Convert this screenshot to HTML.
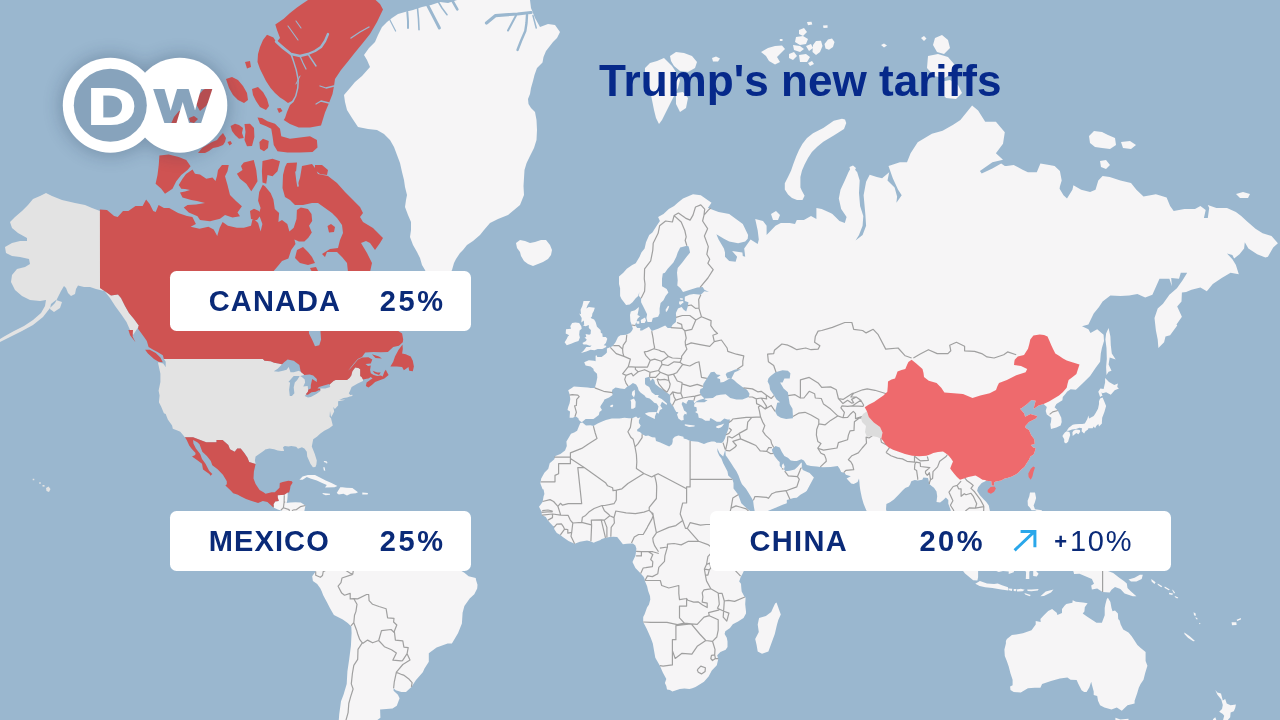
<!DOCTYPE html>
<html lang="en"><head><meta charset="utf-8"><title>Trump's new tariffs</title>
<style>
html,body{margin:0;padding:0;background:#9ab7cf;}
body{width:1280px;height:720px;overflow:hidden;position:relative;font-family:"Liberation Sans",sans-serif;}
#map{position:absolute;left:0;top:0;width:1280px;height:720px;display:block;filter:blur(0.4px)}
.title{position:absolute;left:599px;top:0;font-size:44.1px;font-weight:bold;color:#06298a;white-space:nowrap;line-height:44px;letter-spacing:0;padding-top:0}
.box{position:absolute;background:#fff;border-radius:6.5px;height:60.3px;color:#0a2a78;font-weight:bold;font-size:29px;line-height:60.6px;white-space:nowrap}
.box span{position:absolute;top:0}
.b1{left:170.3px;top:270.7px;width:300.8px}
.b2{left:170.3px;top:510.7px;width:300.8px}
.b3{left:710.4px;top:510.8px;width:460.9px}
.name{left:38.5px;letter-spacing:1.1px}
.pct{left:209.5px;letter-spacing:2.6px}
.plus{font-weight:normal;letter-spacing:1.6px}
#logo{position:absolute;left:10px;top:5px;width:290px;height:200px}
</style></head>
<body>
<svg id="map" viewBox="0 0 1280 720">
<rect width="1280" height="720" fill="#9ab7cf"/>
<path d="M693,194.2 700.8,195.3 711.5,202.8 707.9,208 718.6,212.1 729.2,214.1 742.8,223.9 748.1,235.1 747.7,238.7 745.2,241.4 738.1,243.2 729.2,241.4 723.9,238.7 716.4,234.2 718.6,239.6 723.9,248.4 725,252.6 725,256.8 729.2,260.9 735.6,261.7 737.1,256.8 732.1,250.9 742.4,252.6 742.8,255.9 745.2,256.8 744.2,248.4 750.6,239.6 757.7,244 758.8,239.6 757.7,230.5 755.2,219.1 763,221 766.6,225.8 766.6,235.1 771.9,229.6 775.5,225.8 780.8,223 789.7,223 795,223.9 796.8,220.1 803.9,220.1 811,216.1 816.4,219.1 816.4,208 821.7,209.1 830.6,213.1 832.4,214.1 839.5,221 844.8,223 846.6,217.1 841.2,209.1 838.8,198.6 840.5,189.8 844.8,180.6 848.4,172.3 851.9,166.1 857.2,172.3 859.7,180.6 859,193.1 860.1,206 863.3,216.1 862.6,225.8 859,235.1 855.5,240.5 862.6,235.1 866.1,225.8 865.4,215.1 863.6,195.3 866.1,181.8 869.7,174.7 876.8,177.1 882.1,178.3 889.2,172.3 887.5,180.6 894.6,187.5 897.1,196.4 896.4,202.8 901.7,195.3 898.1,189.8 892.8,178.3 888.5,166.1 899.9,162.3 907,162.3 910.6,153.2 917.7,142.3 931.9,133.7 942.6,130.8 953.2,124.8 960.4,120.1 972.1,105.6 978.1,110.6 985.2,121.7 995.9,121.7 1004.8,132.2 1003,143.7 995.9,153.2 1003,159.8 992.4,162.3 979.9,171.1 981.7,173.5 992.4,168.6 1001.2,163.6 1004.8,166.1 1006.6,166.1 1013.7,164.9 1022.6,169.8 1027.9,172.3 1036.8,172.3 1040.4,163.6 1049.2,164.9 1054.6,166.1 1059.9,171.1 1061.7,180.6 1059.9,186.4 1059.6,188.7 1063.5,195.3 1067,198.6 1072.4,189.8 1073.4,185.2 1081.2,189.8 1090.1,192 1095.5,189.8 1098.3,180.6 1102.6,175.9 1109.7,177.1 1120.4,180.6 1131,182.9 1136.4,189.8 1143.5,196.4 1155.9,194.2 1166.6,197.5 1170.1,206 1173.7,211.1 1184.4,209.1 1195,209.1 1200.4,206 1205.7,210.1 1203.9,218.1 1207.8,218.1 1209.2,208 1207.8,204.9 1216.4,208 1227,208 1235.9,212.1 1241.2,216.1 1246.6,221 1255.5,228.7 1262.6,233.3 1271.5,236 1277.9,243.2 1273.2,247.5 1267.9,256.8 1265.4,257.6 1257.2,254.3 1248.4,248.4 1244.8,242.3 1244.1,248.4 1239.5,254.3 1234.1,258.4 1232.4,255.1 1227,253.4 1232.4,259.2 1235.9,264.9 1238.8,274.3 1230.6,272.7 1221.7,278 1212.8,284 1206.8,291.2 1200.4,287.6 1191.5,289.8 1186.1,291.9 1181.9,292.6 1181.5,301.6 1177.2,306.4 1181.9,316.8 1176.5,324.4 1177.2,325.6 1170.1,335.3 1165.5,336.5 1164.1,342.3 1158.4,348 1157.7,339.4 1155.9,330.5 1154.5,318.1 1157.7,308.4 1163,303.7 1169.4,294.7 1176.9,288.3 1182.6,280.3 1187.2,272.7 1180.8,272.7 1179,278.8 1171.2,278 1171.9,286.2 1169.4,278.8 1159.5,278.8 1152.4,294.7 1145.2,297.5 1137.4,294 1129.2,295.4 1120.4,296.1 1110.4,295.4 1102.6,301.6 1099,307 1093.7,313.6 1088.4,324.4 1082,326.2 1088.4,329.3 1090.5,332.9 1097.2,329.3 1103.6,334.7 1104,341.1 1101.9,348 1100.8,353.6 1100.1,361.8 1095.5,368.1 1090.1,375.9 1083,382.9 1075.9,389.8 1070.6,389.3 1067,391.8 1066,393.2 1062.8,397 1062.4,400.3 1056.4,404.1 1054.6,407.3 1057.8,410.5 1061.3,417.7 1061.7,422.1 1060.6,425.6 1056.4,427.4 1051,429.1 1050.3,424.3 1051,422.1 1051.4,417.7 1046.8,414.6 1045.7,411 1046.8,406.9 1043.6,404.1 1038.6,405.5 1033.6,409.1 1034.7,404.1 1035.7,400.8 1031.5,399.9 1027.2,404.1 1021.5,408.2 1020.1,408.7 1024,413.2 1024.4,414.1 1025.1,416.8 1030.4,414.1 1037.2,415.9 1036.4,418.2 1029,422.1 1025.4,426.1 1025.4,427.8 1029,430 1031.1,435.1 1034.3,439.3 1034.7,443.9 1030.8,445.1 1033.2,447.6 1035.7,448 1034.7,451.7 1033.6,454.5 1030.4,456.5 1029,459.7 1026.8,462.9 1024.4,466.9 1021.2,469.6 1018.3,472.7 1016.2,474.3 1011.9,476.6 1007.3,478.1 1004.8,478.5 1001.2,480.4 995.9,481.6 994.1,482.3 994.1,485.8 991.6,485.4 991.3,481.2 986.3,480.8 981.7,483.1 980.6,484.2 978.1,487.3 977.1,490.7 979.9,495.2 983.8,499.6 986.3,501.9 988.8,505.5 989.9,511 989.9,515.8 988.8,518.7 983.5,522 981,522.3 980.6,525.6 975.3,528.8 973.9,525.6 974.6,523 972.8,522.3 969.2,521.6 967.5,518.3 965,515.8 960.4,514 960,511.4 958.6,511 956.8,511.8 956.4,514.7 954,520.1 954.3,525.6 956.8,527.4 957.9,529.5 958.9,533.8 962.8,535.6 964.6,537.4 968.9,542.4 968.9,547 969.2,550.3 971.7,554.5 969.2,554.9 965.7,552 961.8,549.2 958.9,544.9 957.9,540.3 957.2,536.3 955.4,533.5 950.8,531.7 951.1,528.1 951.8,523.8 952.2,518.3 951.5,514.7 950.4,509.2 948.3,503.7 948.3,500 945.8,497.4 943.3,500 940.1,502.6 936.5,501.9 937.2,496.3 936.5,491.4 934,487.7 931.6,486.1 929.4,483.9 928,478.1 923.4,477.4 922.3,479.7 917.7,480.4 914.8,480 911.3,481.2 910.2,484.2 908.8,486.5 905.2,488 902.8,490.3 898.1,495.2 893.9,499.6 890,502.2 886.4,504.1 886,509.2 886.8,512.5 885.3,517.2 885.3,522.7 882.8,526.3 879.3,528.1 876.8,530.6 873.2,526.6 872.2,523.8 870.8,519.1 867.6,513.2 865.1,507.4 863.6,503.7 861.9,498.1 860.4,490.7 859.7,486.1 859.4,482.3 859,478.5 857.6,482 853.7,483.9 851.2,483.5 846.6,478.5 850.8,476.2 845.9,474.7 844.8,473.1 841.2,471.9 839.5,468.4 837.7,466.1 830.6,466.9 822.8,467.3 820.3,466.9 816.7,466.5 811,466.1 806.8,464.9 803.9,460.5 801.4,459.3 796.8,460.9 794.3,460.9 790.8,460.5 787.9,457.7 784.4,456.1 781.9,452.1 779.7,447.6 775.5,446 773.7,447.6 771.9,449.6 772.6,452.5 774.8,456.5 778,460.5 779.7,462.1 779.7,465.7 781.9,468.4 781.9,465.3 783.3,463.3 784.7,466.5 784,469.2 785.4,471.2 789.7,470.8 794.7,469.6 797.9,466.5 800.7,463.3 801.8,462.5 801.8,467.6 802.8,470 809.6,473.1 813.9,477.4 809.6,485.4 806.8,490.7 805.7,491.8 800.4,494.8 796.8,497.8 793.6,498.1 786.8,500 786.8,503.3 782.6,504.8 776.2,507.4 771.9,509.2 766.6,511.4 761.2,513.6 755.9,514 754.8,511.8 753.8,506.3 753.1,500.4 750.6,496.3 748.8,493.3 746,488.8 742,484.2 740.6,481.2 738.5,475.4 736.4,471.2 733.5,466.9 731,462.9 727.5,457.7 725.7,455.3 725.3,449.6 723.2,456.5 719.6,453.3 717.2,448 716.1,442.6 721.4,443.1 723.2,441.8 725,438.5 725.7,435.9 727.5,431.2 728.5,428.7 728.9,424.3 730,419.5 727.5,419.5 724.3,418.6 720.4,421.7 716.8,421.7 711.5,418.6 710,418.2 709.7,420.8 705.4,420.8 701.9,418.6 698.7,417.7 698,413.7 695.1,411.9 696.9,411 696.5,407.3 694,406.4 694.4,404.1 696.2,402.2 699,402.2 704.4,402.2 707.6,400.3 704.4,399.4 705.1,398.5 712.9,398 716.4,395.6 720.4,394.7 725.7,394.2 730.3,398 736.4,399.4 742.4,399.4 748.8,397 749.5,393.7 747,389.8 742.4,386.9 737.1,382.9 733.9,379.9 731.4,378.4 734.6,372.3 737.1,371.3 741,369.2 736.4,369.2 734.6,369.7 731,371.3 726.8,372.8 725.7,374.4 727.5,378.4 730.7,377.9 727.1,379.9 723.6,382 720.4,382.5 720,378.9 716.8,377.9 720.7,374.9 716.8,374.4 714.3,371.8 710.8,372.3 706.8,378.4 703.3,383.9 702.9,387.9 700.4,388.9 699.7,392.3 700.8,395.1 704.4,398.5 700.8,399.4 699,399.9 696.5,401.3 694.4,403.6 693.7,401.3 693.7,400.3 688.4,399.9 686.6,402.7 686.6,404.1 684.1,402.7 682.7,401.8 681.6,404.1 683,407.3 684.1,410.5 686.6,412.3 686.6,414.6 684.8,413.7 683.4,415.9 683.7,419.9 681.2,420.4 678.4,418.6 677,414.6 678.4,412.3 676.3,411.9 674.8,409.6 673.4,406.4 672.4,405.5 670.2,402.2 670.2,397.5 670.2,395.1 667,392.7 663.5,389.8 659.6,387.4 655.3,383.9 654.2,379.9 652.4,378.4 650.7,381 649.6,377.9 650,376.4 645,377.9 645,383.4 645.7,384.9 649.2,386.9 651.7,392.3 655.3,395.1 658.8,395.1 657.8,397 661.7,398.9 667,403.6 666.7,405 662,401.8 660.3,405.5 662.4,408.7 659.9,410.1 658.5,413.7 656.7,412.3 657.8,409.6 658.5,406.4 656.7,403.6 654.2,402.7 652.8,401.3 651.7,400.3 649.6,398.5 646,397.5 644.6,395.6 640.7,392.7 638.6,390.3 637.9,387.4 636.1,384.4 632.9,382.9 629.7,385.4 627.9,385.9 624.7,388.9 620.4,388.4 618.3,387.9 615.5,387.4 612.3,389.8 611.9,392.3 612.6,395.1 609.1,397.5 604.4,399.4 603.7,401.3 600.9,405.5 600.2,406.9 602,410.1 599.5,411.9 598.8,415 594.5,418.2 593.4,419 588.8,419 585.6,419 582.4,421.7 581.3,422.1 578.8,419.9 578.5,418.6 576.4,416.8 574.9,416.8 572.8,417.7 569.6,417.7 570,411.4 567.5,410.1 568.2,406.9 569.6,403.2 570.3,398.9 569.6,394.2 568.2,390.3 571,388.4 573.9,386.4 580.6,386.9 587.7,387.4 590.6,387.9 594.8,387.9 596.3,382.5 597.3,377.4 597,373.8 593.8,370.8 593.4,368.7 590.6,366.6 585.6,365.5 584.2,362.3 588.8,360.2 594.1,360.7 595.6,361.2 595.6,355.8 596.6,355.3 597.3,356.9 601.6,356.9 605.2,354.2 606.9,352.5 606.9,348.6 612.6,346.3 615.5,342.3 618,337.1 620.4,335.3 626.1,334.7 630,332.9 631.8,331.1 632.9,328.7 631.8,325 630.4,321.2 630,314.9 630.8,311.6 635,310.3 638.9,307 638.6,309.7 637.5,314.9 640,316.2 637.5,318.7 636.1,322.5 635,325 637.2,328.1 640.4,328.1 640,330.5 642.1,330.5 644.3,329.3 648.9,326.8 651.7,331.1 658.1,328.7 665.2,325.6 667.7,328.1 670.9,328.1 672.4,325 675.9,321.9 676.3,318.1 675.9,312.9 678,308.4 681.6,307 683.7,309.7 686.2,311.6 688,305.7 688.4,302.3 684.8,301 684.8,296.8 689.4,294.7 693.7,294 700.8,294.7 704.4,291.2 709,291.9 704.4,289.8 702.6,286.9 697.2,287.6 690.1,289.8 683,291.9 680.5,288.3 677.3,285.5 677.7,280.3 677,272.7 677.7,268.1 682.3,262.5 686.6,256.8 690.1,252.6 688.7,246.6 686.9,245.8 680.2,247.5 677.7,252.6 676.3,256.8 673.4,262.5 667.7,268.8 664.9,272.7 662.8,273.5 662,278.8 662,286.2 666.7,289.1 668.4,292.6 665.6,296.1 663.5,300.3 660.6,303 659.6,308.4 659.6,313.6 658.1,316.8 652.8,318.1 651.7,321.9 647.5,321.9 646.4,318.1 647.1,314.2 643.9,307.7 641.1,302.3 641.1,298.2 638.9,296.1 639.3,291.9 638.2,296.1 635.7,298.2 632.5,302.3 629.7,304.4 626.1,305 621.5,298.9 620.1,296.1 620.1,288.3 619,284 619,276.5 623.3,272.7 626.8,268.8 632.2,264.9 635.7,263.3 639.6,256.8 641.4,252.6 644.6,248.4 646,242.3 649.2,235.1 652.4,232.4 656.7,225.8 659.9,221 658.1,217.1 663.5,214.1 668.8,209.1 674.1,206 677.7,202.8 683,198.6ZM580.3,423 582.4,422.6 586,425.6 590.6,425.2 593.4,426.1 597.7,423.5 601.6,421.7 605.9,419.9 611.9,418.6 619.4,418.6 624.4,417.7 629,418.2 632.2,418.2 636.1,416.4 637.9,418.2 640.4,417.3 638.9,420.4 638.9,423 640.7,425.6 639.6,427.8 637.2,429.5 637.2,431.2 640,432.1 642.1,434.2 645.7,435.9 648.2,435.5 652.1,437.2 655.3,437.6 656,441 660.3,442.6 665.2,444.7 669.2,446.4 672,444.3 672.7,441.4 672.7,438.9 674.8,436.8 678.4,435.5 683.4,436.8 683.7,438.5 686.6,439.3 690.1,441 698,441.8 704,443.9 707.6,442.6 711.5,441.4 714.3,441.4 716.1,442.2 717.2,447.6 717.5,451.7 719.3,455.7 721.4,458.5 723.2,463.3 725.7,468 727.5,471.6 728.2,475.4 732.4,479.3 733.5,483.1 733.5,488.4 738.1,494.4 741.3,503.3 744.2,505.9 747.7,509.2 752,512.5 755.2,514.7 754.5,518 755.9,519.1 758.4,522 761.2,522.3 766.6,520.9 771.9,519.4 777.2,518.7 781.5,516.9 783.6,517.2 782.9,522 780.4,529.2 778.3,532.8 775.1,539.9 771.6,544.2 765.5,550.3 762.3,552.4 755.9,558.1 752.4,560.9 749.2,565.5 746.7,567.7 743.8,570.9 742.4,574.1 740.6,577.3 739.2,581.6 741,583.7 741.3,588 741.7,591.6 744.2,596.3 745.6,597.8 745.2,604.3 746,611.6 746,613.5 743.5,617.9 738.1,621.6 732.8,624.2 730,628 725.3,631.3 724.6,634 726.8,637.8 727.5,641.6 727.5,647.1 725.7,649.8 720.4,652.1 717.2,655.3 718.2,659.3 716.8,665.3 711.8,670.6 708.6,676.4 704,681.8 700.4,683.9 695.5,686.9 692.3,688.2 689.4,689 684.4,688.6 679.8,689 672.4,691.6 669.9,689.9 667,689.5 666.3,686 664.9,683.1 666.3,678.9 662.8,672.6 659.9,665.7 655.3,657.7 654.2,651.4 652.8,643.6 650.7,637.8 646.8,629.1 643.2,622 643.2,617.1 644.6,614.2 647.1,607.2 648.9,604.7 650.3,599.6 650,596 648.2,590.9 647.1,586.2 645,581.2 644.3,578 643.2,576.2 640.7,573.4 635.4,568 632.5,562 634.3,558.1 635.4,555.9 636.1,551.3 636.4,548.8 635.4,545.6 632.9,543.5 630.8,543.5 626.8,543.8 622.9,544.2 620.4,541 617.2,537.1 613.3,536.7 609.8,537.1 605.5,537.8 601.2,539.2 600.5,539.9 595.2,542.1 593.8,542.8 590.2,541.3 587,540.6 579.9,541.7 574.6,543.8 568.5,541 562.8,537.1 560.4,534.9 556.8,533.1 554.3,529.2 554,526.6 552.5,525.6 549.3,522 547.6,520.1 545.8,516.9 541.9,515.1 541.5,511.4 539,506.7 542.6,501.9 543.6,496.3 544.4,494 543.6,489.5 542.6,489.2 540.4,483.5 541.2,478.5 544.4,472.7 548.3,468.8 549.7,463.3 554.3,459.3 555.4,456.1 560.4,454.1 565,450.5 566.8,446 566.4,441.4 568.5,438 571,433.8 574.2,432.5 577.1,430.8 578.8,426.5ZM776.5,602.5 780.8,614.6 778.3,620.1 776.9,625 774.8,634 771.6,642.8 768.4,651.4 762,653.7 757.7,651.4 756.6,645.1 755.2,639 758.8,632.1 757.7,624.6 759.1,617.9 765.9,616 771.2,612 773,608 775.1,603.6ZM1006.9,639 1011.9,635.1 1016.2,634.4 1022.9,633.2 1031.5,630.2 1035.7,624.6 1035.7,620.9 1040.7,622 1040.4,619 1043.9,615.3 1048.2,610.9 1052.1,609 1056.7,612.7 1057.4,614.9 1062,613.1 1062,609 1064.5,605.8 1066.3,603.9 1072.4,602.8 1072.7,600.3 1075.9,601.8 1083,602.5 1087.6,603.2 1084.8,607.2 1084.4,611.6 1082.7,613.5 1087.3,616.8 1091.9,619.7 1096.5,622.7 1101.9,622.7 1104.7,615.3 1104.7,608 1105.4,604.3 1106.8,598.9 1107.9,597.8 1110.4,602.1 1111.5,608 1112.5,611.2 1115,610.5 1117.9,613.5 1118.2,619 1119.6,620.5 1120.7,624.6 1123.2,629.5 1128.5,632.5 1131.7,636.3 1137.4,645.1 1141,648.2 1145.6,652.1 1145.6,660.9 1147.4,665.7 1145.2,673 1143.5,679.7 1140.6,683.9 1138.8,687.8 1137.1,693.4 1134.6,700.8 1134.6,703.5 1127.5,705.3 1121.8,710.8 1116.8,707.6 1111.5,709.4 1104.4,707.6 1100.1,705.3 1098,700.8 1097.2,696 1093.7,695.1 1093.7,691.6 1091.9,684.8 1091.2,681.8 1089.4,687.3 1086.6,692.1 1084.1,692.1 1081.6,690.3 1078.4,683.9 1076.6,680.1 1070.6,679.7 1067.4,677.6 1059.9,678.4 1051,681 1042.1,683.9 1040.4,687.8 1034.7,687.8 1027.9,688.2 1020.8,692.5 1013.7,692.1 1010.5,689.9 1010.1,686.5 1012.6,685.2 1012.6,679.7 1010.5,673.5 1008.7,666.5 1006.9,661.3 1004.8,656.1 1004.4,649.4 1005.9,643.6 1005.9,640.9ZM1115.4,717.7 1120.4,719.6 1125.7,719.1 1128.5,718.7 1128.5,729.2 1115.4,729.2ZM1215.3,689.9 1217.4,692.5 1221,693.4 1222.8,700.4 1225.2,699.1 1226.7,703.5 1230.6,705.3 1235.9,704.4 1235.2,708 1233.8,711.2 1230.6,712.6 1230.2,717.2 1227,721 1224.2,722.4 1222.8,721 1224.2,715.8 1222.8,714 1219.2,711.7 1222,708.9 1222.8,704.9 1221.3,699.5 1217.4,694.7ZM1215.3,717.2 1216.7,721 1221,720.1 1221,729.2 1209.2,729.2 1213.2,719.1ZM1067,562.3 1072.4,560.9 1077.7,562.3 1078.8,566.6 1081.2,571.2 1086.6,567.3 1091.9,565.2 1101.5,568.7 1106.1,570.2 1113.2,573 1119.6,578 1123.9,580.9 1126.8,583.4 1127.5,588 1131,591.6 1136.4,596.3 1132.8,596.3 1124.6,593.4 1120.4,589.1 1115,587 1111.5,589.8 1109.7,592.4 1102.6,592 1097.2,588.4 1091.9,589.5 1091.2,585.5 1094,583.7 1091.9,579.1 1084.8,575.9 1079.5,573.7 1074.1,574.1 1073.4,571.2 1070.6,569.8 1075.9,568.4 1071.3,567.3 1067,564.5ZM1128.5,579.4 1134.6,577.7 1139.9,574.8 1142.8,574.8 1141.7,579.1 1136.4,581.6 1131,581.6ZM1184.4,632.5 1189.7,636.3 1195,640.9 1193.2,641.3 1187.9,637.8 1184.4,634ZM940.1,539.6 947.9,541 952.2,546.3 957.9,549.9 962.1,553.5 967.5,557.4 970.3,562.7 972.8,566.3 978.1,570.2 978.1,577.3 977.4,580.5 973.2,580.2 965,573.4 959.6,566.6 957.9,562.7 953.2,556.7 949.7,551.7 944.4,546.3 940.4,542.1ZM975.3,583.7 979.9,580.9 987,583.4 994.1,584.1 997.7,583.4 1002,585.2 1008,587.3 1008.4,590.6 1001.2,589.5 992.4,588 985.2,587.3 979.6,585.9ZM1040.4,596.3 1045.7,591.6 1053.5,589.5 1051,592.4 1043.9,596ZM988.8,554.2 990.9,552.4 997,549.5 1003,548.1 1006.6,543.5 1011.2,540.6 1014,538.1 1016.5,534.5 1019.7,537.1 1021.2,538.8 1025.1,541 1021.9,543.8 1019.4,544.9 1020.1,548.8 1020.8,551.7 1024.4,555.9 1020.4,556.7 1019,561.3 1015.8,564.1 1014.4,569.8 1013.7,572.3 1008.7,574.1 1008.7,571.6 1003,570.9 998.8,572 993.1,569.8 992.7,565.2 989.9,559.9 988.8,556.7ZM1027.2,556.7 1030.8,554.9 1038.6,556.3 1045.7,553.8 1043.9,558.1 1035,557.7 1028.6,558.4 1027.9,562.3 1032.5,562.7 1037.9,562.3 1033.6,565.9 1036.1,570.9 1038.6,573.7 1036.8,576.6 1033.2,575.9 1033.2,570.2 1031.1,569.1 1029.3,572 1029.3,579.1 1025.8,579.1 1026.1,572 1023.6,569.1 1025.4,564.1 1027.2,559.9ZM1030,492.5 1035,492.5 1036.1,498.1 1035,501.9 1033.6,505.5 1035,509.2 1041.8,510.3 1042.5,514.3 1038.6,512.1 1035,510.3 1031.5,510.3 1030,507.8 1027.9,505.5 1027.6,500.7 1029.3,496.3ZM1035,534.5 1040.4,528.8 1047.5,524.5 1051,531 1050,537.1 1046.8,539.2 1042.1,536.3 1038.6,532.8ZM885,524.8 888.5,526.6 892.1,532.8 891,537.1 887.5,538.5 885.3,536.3 884.6,530.2ZM1063.5,434.2 1062.4,435.9 1064.2,439.3 1064.2,442.2 1066,443.5 1068.1,441.8 1068.8,439.3 1070.2,435.1 1069.5,432.1 1066.7,431.2 1064.9,432.5ZM1066.7,430.8 1068.8,427.8 1072.7,424.8 1075.2,424.3 1079.5,423.9 1082.3,423.9 1084.8,423.5 1087.3,419 1088.4,415.5 1089.1,418.6 1093.7,415.9 1095.5,413.2 1098,408.7 1099,404.1 1099,401.3 1100.1,398.5 1102.6,397.5 1104.4,401.8 1106.1,405.9 1104.4,411.9 1102.2,417.7 1101.9,422.1 1101.9,423.5 1099,426.5 1098.3,423.9 1096.2,426.1 1095.1,428.2 1093.7,426.5 1092.6,428.2 1088.4,428.2 1088,429.5 1085.5,431.2 1084.1,433.4 1081.6,431.2 1082,428.2 1079.5,427.8 1075.9,429.1 1072,429.5 1068.8,430.8ZM1072.4,432.5 1072.7,435.9 1076.3,433 1078.4,434.2 1080.2,431.7 1079.8,430 1075.9,429.5 1073.4,430.8ZM1100.1,397 1099,393.7 1098.3,391.8 1100.4,388.4 1103.6,388.9 1105.1,382.5 1105.1,377.9 1109,382 1114.3,384.9 1117.9,383.4 1117.2,386.9 1118.9,388.4 1114.7,390.3 1110.8,394.7 1106.1,392.3 1102.6,393.2 1101.5,392.3 1102.2,395.6 1103.3,395.6 1101.5,396.1ZM1108.6,328.1 1110.4,336.5 1110.8,345.2 1111.8,353.6 1115.7,359.6 1109.7,357.4 1108.6,364.4 1111.5,370.8 1108.6,371.8 1106.5,374.9 1106.1,367.1 1106.8,359.1 1106.5,348 1105.4,339.4 1106.1,333.5ZM581,353.1 586.3,351.4 590.6,349.7 594.5,350.3 597.7,349.1 602.3,349.1 606.2,346.9 606.2,345.7 603.7,345.2 605.9,342.9 607.3,338.8 605.9,337.1 602.7,337.1 602.3,333.5 600.9,332.9 600.5,329.9 597,326.8 595.6,321.9 594.1,319.4 590.6,318.1 592,316.2 592.4,313.6 593.8,311 594.8,307.7 588.8,307 586.3,308.4 587.7,305 590.2,301 583.5,301 582.4,305.7 580.6,309.7 581,314.2 579.2,313.6 581.7,318.1 581.3,322.5 583.8,320.6 584.2,324.4 583.1,325.6 585.6,326.2 588.8,325 588.8,328.1 590.9,329.9 590.6,334.1 589.2,334.7 585.6,334.1 586.3,337.1 584.5,337.6 586.7,339.4 586,341.1 582.4,342.9 583.5,344.6 586.3,344.6 589.9,345.7 591.6,345.2 590.2,346.9 586.3,346.9 585.2,348.6 583.5,350.8ZM579.2,334.7 579.9,337.6 578.5,341.1 574.6,342.3 571.7,343.5 566.8,345.2 564.6,342.3 566.8,338.8 567.8,336.5 569.2,335.3 565.7,333.5 566,329.3 571,328.7 570.3,326.2 572.1,323.1 575.3,322.5 579.2,323.1 581.3,326.2 581.7,328.7 579.6,330.5ZM634.7,389.8 635,394.2 634,397.5 631.8,394.7 632.2,391.8ZM634,398.5 635.7,401.8 635.4,407.3 633.2,408.7 631.1,408.7 631.1,401.8 630.4,399.9ZM645.3,413.2 648.9,412.3 656.7,411.9 654.9,416.4 654.9,419 652.1,417.7 647.5,415.5 645.3,414.1ZM684.8,424.3 688.4,424.8 694.8,425.6 694.4,426.5 689.1,426.9 684.8,425.6ZM716.1,426.5 718.2,425.6 721.1,424.8 724.3,423.5 722.1,426.5 720.7,427.4 718.6,428.2 716.4,427.8ZM609.8,405.9 612.3,404.5 613.3,405.5 612.3,407.3 610.8,406.9ZM640.7,320 645,317.4 646,320.6 644.6,323.1 641.1,323.1ZM636.1,321.2 639.3,321.2 639.3,323.7 636.8,323.7ZM665.6,309.7 668.1,305.7 669.2,306.4 667.7,310.3 666,312.3ZM679.1,301.6 683,301 683.7,302.3 680.2,305 679.1,303.7ZM679.8,298.2 682.7,298.2 682.7,299.9 680.2,299.6ZM846.25,123 845,119.5 842,118.75 833.75,120.8 823.3,128 813,133.3 807,138 802.5,143.75 799,150 796.25,156.25 793.5,163.5 791,170.8 788,177 784.8,183.3 784.8,189.6 788,194.5 792,198 797,200 802.5,200 804.6,195.8 802,191 800.4,187.5 800.4,177 802,170.5 804.6,164.6 808,158 811.9,152 817.5,146.5 823.3,141.7 833.75,135.4 844,129ZM849.5,167 853,165.5 856,168 854,172 850.5,172ZM1236,194 1243,192 1250,194 1248,198 1240,198ZM771,214 776,211 780,215 778,220 773,220ZM392,18 398,14 405,12 413,10 422,7 431,5 440,2 448,3 457,0 530,0 531,8 535,18 540,27 548,24 555,25 560,32 557,38 553,42 546,51 543.5,57 542.5,62.5 537,68 534.5,75 533,81 531,88 530,94 528,99 528.5,104 531,108 535,112 536.5,120 537,130 536.5,140 534,148 530,156 526.6,163 524.5,170 524,178 523.5,186 524,195 520,205 508,215 498,219 490,223 484,230 480,235 473,241 467,245 463,250 460,253 456,259 454,263 452,270 448,278 443,284 438,286 433,284 428,277 425,270 422,265 420,258 417,252 413,245 410,237 411,230 411,222 408,215 405,207 406,200 407,195 405,187 404,180 402,172 400,163 397,155 394,147 390,140 384,134 377,130 368,129 358,127 352,118 347,110 345,102 344,95 350,88 355,82 362,76 370,67 367,60 364,55 369,48 375,42 378,35 382,27 387,22ZM516,243 520,240 525,241 530,243 535,242 541,240 546,240 550,245 552,250 551,255 548,259 543,262 538,264 533,266 528,264 524,261 521,256 520,252 517,248ZM326.4,528.8 328.2,531 330,527.4 332.8,522.3 335.3,520.1 337.4,519.1 341.7,518.7 346.3,515.1 347.7,517.2 345.6,519.4 346.7,520.5 347.7,520.5 351.6,518.3 352.4,515.8 353.4,518.3 358.4,520.9 363,521.6 366.6,522.7 371.2,523.4 377.2,521.2 380.8,521.2 384.4,525.6 387.9,529.2 394.3,535.3 398.6,538.5 405,538.5 409.6,539.2 415.3,542.1 418.1,544.6 419.9,548.1 423.5,553.1 423.5,558.8 428.8,561.3 430.6,562 434.1,561.6 443,566.6 444.1,568.7 451.9,569.5 459,569.5 464.4,572.7 468.6,576.2 475.7,578 476.1,580.2 477.5,584.8 477.2,588.4 474.3,594.2 469.7,598.5 464.4,606.1 462.6,612.7 461.9,623.5 458,633.2 451.9,643.6 447.6,643.6 436.6,647.4 428.8,653.3 428.8,661.7 424.5,668.5 422.8,672.2 416,680.1 411.4,686.9 406,692.1 401.4,692.1 395.7,690.3 393.6,688.2 393.6,690.8 397.9,694.7 399.6,698.2 396.8,705.8 392.5,708.5 380.1,709.4 380.4,717.7 377.2,720.1 375.5,729.2 338.1,729.2 338.8,720.1 339.2,714.5 341,701.3 343.5,694.7 346.7,683.9 347.4,671.4 349.2,659.3 350.9,645.9 351.6,632.9 351.3,626.5 347.7,623.1 342.8,619.4 333.9,614.9 330.3,608.7 327.1,602.5 323.2,595.2 321.8,591.6 320.4,588.4 317.2,584.1 312.9,580.9 312.2,576.2 315.7,571.6 317.2,568.4 313.6,567.3 314.3,563.1 316.4,559.5 317.9,555.9 321.1,554.2 321.1,553.1 326.8,545.6 325.7,539.9 326,535.6 324.3,533.8ZM273.4,507.4 277.7,509.6 284.8,511.8 289.4,512.9 290.1,512.9 293.7,516.5 296.5,519.8 296.2,523.8 299.7,525.2 304,529.2 306.5,530.6 310.4,531.3 315,533.5 316.8,530.2 318.6,527.7 322.1,529.2 323.2,532.8 324.3,533.8 326.4,528.8 322.1,525.9 317.2,525.9 311.5,528.1 308.6,526.3 306.1,523.8 303.6,520.1 303.3,516.5 304.7,509.2 305.4,505.5 300.8,502.6 295.5,502.2 290.1,502.6 286.6,503 287.3,500 287.6,496.3 287.6,492.5 284.4,494.8 277.7,495.2 277.7,497.2 278.8,501.1 275.2,501.5 273.4,504.4ZM299.4,479.7 302.6,476.6 307.9,475 315,475 320.4,477.7 325.7,480.4 331,482.7 337.4,486.1 334.6,487.3 325,487.5 326.8,485 322.1,483.1 316.8,480.4 310.4,478.5 306.8,477 302.6,479.7ZM336.7,492.9 340.3,487.3 342.4,487.3 346.3,487.7 352.4,488 358,492.2 355.9,493.3 350.6,493.7 347,495.5 343.5,493.7 338.8,494.4ZM362.3,492.5 368,492.9 367.6,494.4 362.3,494.6ZM322.5,492.9 330,493.7 330,494.8 325.7,495.2 322.8,494ZM1151.3,579.1 1155.6,582.3 1154.5,584.1 1151.6,581.6ZM1157.7,583.4 1162.3,586.2 1161.2,587.3 1157.7,584.8ZM1164.8,586.6 1169.8,589.5 1168.7,590.2 1164.4,587.7ZM1169.1,592.7 1173,593.4 1172.3,594.9 1169.1,594.2ZM1172.6,589.5 1175.1,592.7 1174,593.4 1172.3,590.2ZM1174.8,596 1178.3,597.4 1177.2,598.5 1174.8,597ZM1231.6,622.3 1236.3,622.3 1236.6,625 1232,625.3ZM1236.6,619.7 1240.9,617.9 1240.9,619.4 1237.3,620.9ZM1193.6,612.3 1195.7,613.5 1195.7,616 1194,615.3ZM1195.7,617.1 1197.9,619 1196.8,619.4 1195.7,618.3ZM1198.9,622.7 1200.7,623.5 1199.6,624.2ZM1008.4,588.4 1012.3,588.8 1011.9,590.9 1009.1,590.2ZM1013.7,589.1 1016.2,589.1 1015.8,591.3 1013.7,590.9ZM1016.5,589.5 1020.8,588.8 1024.7,589.8 1022.6,591.3 1017.2,591.6ZM1027.2,589.5 1031.5,589.5 1038.6,589.1 1037.9,590.6 1031.5,591.3 1027.6,590.9ZM1024.4,593.1 1030.8,594.9 1029.7,596.3 1025.1,594.5ZM645,68 650,63 657,61 664,58 668,62 672,66 676,72 680,80 678,88 674,96 670,104 666,112 662,120 659,124 656,118 654,110 652,100 650,90 647,80 645,74ZM670,56 676,52 684,53 692,56 697,62 695,68 688,72 680,71 674,66 671,61ZM676,93 683,92 688,98 686,108 680,112 676,104ZM712,58 716,56.5 720,58.5 718,61.5 713,61.5ZM881,45 884,43.5 887,45.5 884,47.5ZM921,38 924,36 926.5,38.5 924,41ZM935,38 942,35 948,40 950,48 944,54 937,52 933,45ZM928,56 938,54 948,57 954,64 952,74 944,78 934,76 927,68ZM940,82 950,80 958,85 962,93 956,99 946,98 940,91ZM1089,136 1094,131 1102,132 1108,135 1115,138 1116,145 1110,149 1102,148 1095,147 1090,143ZM1121,142 1130,141 1136,145 1131,149 1123,148ZM1100,161 1106,160 1110,165 1106,169 1101,167ZM761,52 768,48 775,46 782,45.5 785,49 781,53 777,57 780,62 775,64.5 769,61 766,56ZM799,30 804,28 807,32 803,36 799,34ZM796,37 803,36 808,39 806,44 800,45 795,42ZM793,45 800,46 804,49 800,52 794,50ZM789,54 794,52 797,56 793,60 789,58ZM799,55 806,54 810,57 807,62 800,62ZM806,46 811,44 813,48 809,51ZM808,63 812,61 814,64 810,66ZM813,45 816,41 821,40.7 822.5,46 820,52 816,55 812.5,52ZM824.5,44 828,39.5 832,38.4 834.5,42 833,47 829,49.7 825.5,48.5ZM807,22 811.5,21.7 812.3,24.5 808,25.3ZM823,25.5 827.5,25.3 827.6,27.8 823.5,28ZM779.8,39 782.5,39 782.5,41 779.8,41ZM323.9,460.9 326.8,461.3 326.8,462.9 323.9,462.1ZM323.2,467.3 324.6,467.3 325.3,470.8 323.9,470.4ZM326.4,461.7 327.5,462.5 326.8,464.1Z" fill="#f6f5f6"/>
<path d="M641.1,298.2 644.6,291.2 645,284 644.3,278.8 644.6,268.8 650.7,260.9 652.8,250.1 653.2,243.2 658.1,233.3 659.6,225.8 665.6,221 672.4,222 674.1,215.6 678.4,213.1 685.5,218.1 690.1,220.1 693,215.1 695.5,207 700.8,204.9 704.7,209.1 704,215.1 708.3,210.1 710.8,208M686.9,245.8 685.2,240.5 686.2,236.9 684.8,230.5 681.2,222 674.1,215.6M704,215.1 702.6,221 707.6,228.7 704.4,236 708.3,246.6 706.8,254.3 709.7,259.2 707.9,263.3 713.2,269.6 707.9,278 700.1,287.3M700.8,294.7 698.7,299.6 699,306.4 699,308.4 701.5,316.8 711.1,320.6 710.8,325.6 714.3,330.5 717.5,333.5 712.9,335.3 714.3,341.7 721.4,340 727.1,348 727.8,351.4 736.4,354.2 743.8,355.8 742.8,361.2 742.8,365.5 737.1,369.2M688,305.7 691.2,305 695.5,308.4 698.7,308M676.1,317.4 682.3,315.5 689.8,315.5 695.8,320 701.5,316.8M695.8,320 691.9,329.3 684.8,330.8 686.2,338.2 685.2,341.7 685.5,345.2 686.9,349.1 681.6,356.4 681.6,358.5 680,362.3 682.7,364.4 689.8,366 695.8,362.8 699,361.8 701.5,377.4 706.8,378.4M685.5,345.2 691.2,342.9 700.1,344.6 709.7,346.3 714.3,341.7M670.9,327.7 682.3,328.4 684.8,330.8M682.3,328.4 681.6,324.4 677,322.5M651.7,331.1 652.4,334.7 653.2,338.8 653.5,342.3 654.6,347.4 653.9,348.7 647.5,351.4 644.3,351.9 645.7,355.3 650.3,360.3 647.5,367.1 638.6,367.1 635.4,367.1 628.3,366.6 630.4,359.1 624,356.4 622.9,353.1 622.6,349.1 623.3,345.2 626.1,341.1 626.8,334.7M653.9,348.7 659.2,350.3 661.3,351.4 664.2,351.9 668.3,356.4 672.4,358 681.6,358.5M650.3,360.3 654.6,359.1 661.3,361.2 668.3,356.4M661.3,361.2 662,364.4 668.1,365.5 674.1,361.8 680,362.3M624,356.4 616.2,353.6 610.3,347.4M622.6,349.1 619,345.7 613.3,345.7M628.3,366.6 622.6,373.8 626.1,375.4 624.7,379.4 626.1,383.4 627.9,385.9M626.1,375.4 631.5,373.3 633.2,375.9 638.2,371.8 644.6,369.7 650,372.3 649.6,376.9M635.4,367.1 635.4,369.4 638.2,371.8M650,372.3 658.5,370.5 662,364.4M649.6,377.4 655.6,377.4 660.3,372.3 658.5,370.5M660.3,372.3 668.1,375.4 673.4,374.1 676.6,372.8 682.7,364.4M673.4,374.1 677.3,381 682,382.5 682,383.9 690.1,386.4 697.2,384.4 702.9,386.4M682,383.9 680.9,393.2 682.7,398 688.4,397 695.1,396.1 700.8,394.7M695.1,396.1 693.9,400.6M668.1,375.4 668.8,380.5 670.2,383.9 669.5,387.4 667,392.3M657.1,378.9 659.9,379.9 664.5,379.4 668.8,380.5M657.1,378.9 658.8,383.9 663.8,389.8 667,392.3M670.2,395.1 672.7,391.8 674.1,397 675.9,400.1 682.7,398M672.4,405.5 675.2,399.9 675.9,400.1M672.7,391.8 677.7,393.2 680.9,393.2M569.6,395.1 572.1,394.7 577.8,395.1 579.2,396.6 576.7,399.4 576.4,405.5 574.6,405.9 576.4,412.3 574.9,416.8M594.8,387.9 603.7,391.3 612.6,392.7M631.8,325 635.4,325.6M776.2,372.8 773.7,365.5 768.4,361.8 767.6,354.2 773.7,353.6 774.4,350.3 781.9,344 787.9,345.2 791.5,346.9 796.8,349.7 805.7,348 811,349.7 818.1,349.1 819.9,345.7 814.6,342.3 815.3,336.5 818.1,331.1 821.7,330.5 832.4,327.4 844.8,322.5 851.9,322.5 853.7,329.3 862.6,330.5 866.1,332.9 873.2,329.3 878.2,334.7 885.7,349.1 898.1,348 905.2,355.8 911.6,358M787.9,395.6 795,394.7 800.4,398 800.4,379.9 809.2,377.4 818.1,382.9 821.7,387.4 830.6,386.9 836.3,389.8 838.4,398.5 843,399.4 851.9,393.7 853.7,393.2 862.6,389.8 867.2,388.9 875,390.3 886.4,393.7M800.4,398 803.9,398 809.2,391.3 814.6,393.7 815.3,398 821.3,398.5 823.5,404.1 830.6,409.1 837.7,415.9 843,417.7 847.6,417.3 850.8,413.7 853.3,411.4 855.5,413.7 855.5,418.6 862.6,416.4 867.6,416.8M792.9,416.4 798.6,413.2 805,412.3 811,415 818.8,419.5 818.8,423.9 825.2,424.8 830.6,420.4 837.7,415.9M818.8,423.9 816.7,429.5 816.4,435.1 817.8,441.4 821,443.5 817.8,448.2 823.5,450.1 837,448 838.4,442.6 847.6,439.7 848.4,435.1 850.1,430.8 854,430.4 854.4,421.7 859,418.2 866.1,417.7M817.8,448.2 821,453.3 824.5,454.9 826,458.9 826.3,461.3 820.3,466.9M838.4,398.5 843,403.6 847.6,400.3 851.9,403.2 853.7,402.7 851.6,399.4 856.2,397 860.8,400.3 856.2,403.2 852.3,405.9 847.6,406.4 842,405.9 840.9,407.8 844.4,412.3 843,417.7M860.8,400.3 863.6,405 863.3,406.4M852.3,405.9 863.3,406.4M853.7,393.2 850.8,397 856.2,397M843.7,472.7 845.9,470.4 853.7,469.6 852.6,464.9 850.8,461.7 848.4,459.7 851.9,455.7 858.3,452.9 862.2,448 866.5,443.1 866.1,437.2 869,438M886,452.5 891,455.7 897.4,458.1 902.4,458.9 907,461.3 914.5,462.1 914.5,456.1M886,452.5 890,446.8M917.3,458.5 920.5,460.9 928.4,460.3 927.3,456.5M914.5,456.1 917.3,458.5M869,438 874.3,434.2 880.4,436.8 881.4,442.2 890,446.8M917.7,479.7 917.7,478.1 916.6,470.4 914.5,469.2 914.8,464.5 915.9,462.1 920.2,462.9 920.5,466.5 929.8,467.6 925.5,471.2 925.5,473.1 927.3,475.4 929.4,472.7 930.5,479.7 929.4,482.7 929.4,483.9M930.5,479.7 932.6,478.5 933,471.6 937.6,466.9 939.7,461.3 946.1,456.5 947.2,454.9M961.1,481.2 957.2,485.4 953.2,486.5 949,492.2 952.9,500.7 950.4,505.2 953.6,510.3 955,518 952.2,522.7M957.2,485.4 958.6,488.8 961.1,488.8 961.1,496.3 964.3,493.7 966,494.8 971,493.3 973.5,496.7 976.7,503.7 975.3,508.1 983.8,506.7M964.6,477.7 967.1,480.8 971,483.5 973.2,485.4 971,488.4 974.6,491.8 980.3,499.6 983.5,505.5 983.8,506.7 983.5,515.4 977.8,517.6 978.1,520.1 972.8,522.3M967.1,517.6 965.7,510.7 969.6,507.8 975.3,508.1M957.2,536.3 960.7,539.2 964.3,537.4M913.4,358 919.8,354.2 928.4,349.7 937.2,353.6 947.9,353.6 950.8,350.8 949.7,345.2 956.4,342.3 964.6,346.3 964.6,350.8 974.6,351.4 981.7,353.6 987,356.9 994.1,358 1003.7,354.7 1007.6,351.9 1016.2,354.7M1049.6,414.4 1052.8,411.9 1057.8,410.5M1102.6,568.7 1102.6,592M728.9,422.6 731.4,420.8 732.8,419 738.1,418.4 746.3,417.3 751.8,417.3 760.5,416.8 759.5,411.4 758.4,406.9 760.5,405.5 756.6,403.6 756.3,398.9 752.4,397 748.8,397M743.5,387.9 752.4,388.9 757.7,391.8 761.2,391.3 766.2,395.1 771.2,398.5 774,395.6M766.2,395.1 766.6,398.9 761.2,398 755.9,398.9M761.2,398 763,400.8 766.6,406.4 765.2,409.1M760.5,405.5 765.2,409.1 771.2,405.5 775.1,411.4M760.5,416.8 762.7,422.1 764.8,425.6 762.7,431.2 765.5,435.1 770.8,440.1 771.6,443.5 773.7,447.6M751.8,417.3 747.7,422.1 747,429.1 739.2,433.4 740.6,438.9 750.6,443.1 755.9,445.5 760.2,450.9 766.6,451.3 770.8,453.7 773.3,453.5M766.6,451.3 768.7,447.6 771.9,447.6M739.2,433.4 732.1,438 728.5,436.4M740.6,438.9 732.8,441.4 736.4,445.5 734.6,447.6 729.6,450.9 725.7,450.3M727.8,436.4 727.5,441.4 725.7,449.6M723,442.6 725.3,449.6M726,434.7 728.9,433.4 731.4,430 729.2,428M753.4,500.4 754.8,496.7 757.7,496.7 766.6,497.4 768.4,498.3 771.9,493.7 775.5,492.2 786.1,490.7 796.8,486.9 799.3,479.3 797.5,476.6M786.1,490.7 790,499.4M784.7,471.2 788.3,475.8 797.5,476.6 799.6,471.6 800.7,468.4 801.6,467.8M781.9,468.6 783.6,469.2M593.4,426.1 595.2,433 597,438.5 588.4,443.9 581.7,448.4 570.4,452.9 570.4,457.1 554.3,457.1M570.4,457.1 570.4,463.7 558.6,463.7 558.6,473.7 555,475.4 555,481.8 540.8,481.8M570.4,458.5 584.2,467.6 605.5,482.7 607.6,485.8 612.6,487.7 613,490.7 616.4,490.1 621.9,488.8 627.9,483.5 643.9,473.5 636.4,468.4 636.8,461.7 636.4,454.5 635,446.8 633.2,439.3 630.8,437.2 627.9,431.7 630.4,427.4 631.8,418.2M635,446.8 637.9,443.9 642.1,437.6 642.1,434.2M584.2,467.6 577.8,467.6 581.7,503.7 568.2,503.7 562.5,505.2 560.4,503.3 557.9,506.3 553.6,501.5 550,499.6 542.6,501.5M690.1,441 690.1,479.3 732.4,479.3M690.1,479.3 690.1,486.9 686.6,486.9 686.6,488.8 658.1,473.7 654.6,475.4 651.7,477 643.9,473.5M654.6,475.4 656.4,483.1 656.7,486.9 656.4,498.5 649.2,507.4 649.2,510.3M686.6,488.8 686.6,503 682.7,503 681.2,508.9 680.2,514 682.7,520.5 675.9,525.6 668.8,527.4 656.4,532.8 654.6,523.8 652.8,513.2 651.4,512.5 649.2,510.3M616.4,490.1 616.2,500 614,503.7 604.8,505.5 602,505.5 594.1,508.5 588.8,512.1 585.6,515.4 582.4,517.2 581.7,522.3 572.8,523 570.3,520.1 568.2,515.4 560.7,515.1 557.9,506.3M614,517.6 615.8,511 626.1,512.9 635.4,513.6 643.9,512.1 649.2,510.3M602,505.5 604.4,510.7 609.1,514.7 609.8,515.8 614,517.6 614.4,523 611.2,527.4 610.8,536.7M631.5,543.1 634.3,537.1 638.6,534.5 643.2,534.5 646.8,528.4 648.2,525.6 651.7,519.4 653.2,515.8 651.4,512.5M590.9,541.3 591.6,525.6 591.3,520.1 601.2,519.8 604.4,520.1 609.8,515.8M605.5,537.8 603.4,529.2 601.2,519.8M606.9,537.4 606.9,527.4 604.1,520.1M581.7,522.3 591.3,524.8M574.6,543.8 571,536.3 571.7,532.4 572.8,523M571.7,532.4 567.8,533.1 567.8,529.5 564.6,529.2 560.4,534.9M564.6,529.2 563.2,526.3 561.4,523.8 556.8,524.1 554,527.4M547.9,520.1 552.5,517.6 552.5,514 560.7,515.1M552.5,514 541.9,515.2M541.5,512.3 547.9,511.8 552.2,511.8 552.2,511 547.9,510 542.2,510.7M636.1,551.3 641.4,551.7 648.5,551.7 652.8,551.7 658.8,553.5M636.1,555.9 641.4,555.9 641.4,551.7M656.4,532.8 652.8,538.1 653.2,541.7 654.6,545.6 658.5,551.7M640.7,573.4 643.2,568 645.7,567.7 652.4,566.6 652.8,561.6 650.7,559.5 652.8,554.5 648.5,551.7M645,580.5 647.5,575.9 652.4,576.6 657.8,573.7 658.8,567.3 664.5,561.3 664.9,555.9 667.4,547 667.4,544.2 674.1,543.5 681.2,544.9 688.4,541.3 698.7,541.3M659.9,548.1 667.4,547M682.7,520.5 685.5,528.4 687.3,528.4 691.2,532.8 698.7,541.3M687.3,528.4 690.1,522.7 700.4,525.2 706.1,524.5 711.5,524.5 716.4,517.6 716.1,516.5 719.3,515.8 718.9,521.2 721.8,525.6M721.8,525.6 718.6,531.7 723.9,535.6 725.7,539.9 728.9,543.1 722.1,544.6 720.4,546.2 711.5,546.3 711.1,547 707.9,544.6 698.7,541.3M721.8,525.6 723.2,521.6 725.7,517.2 728.2,514.3 729.6,514 731,508.1 732.8,498.1 738.5,494.4M731,508.1 736,505.9 739.9,507 746.3,508.9 752,514.7 749.9,520.1 753.8,520.3 755,518.5M753.8,520.3 753.1,521.6 755.9,525.9 757.7,527.7 768.4,531 771.9,531 761.2,541.7 755.9,542.4 750.6,544.6 750.2,545.4 741.7,547.4 736.4,546.7 732.1,543.8 728.9,543.1M750.2,545.4 747,549.5 747,559.5 749,565.5M722.1,544.6 725.7,553.1 723.6,555.9 722.1,558.8 721.8,563.1 734.9,570.2 740.6,576.2M711.1,547 712.5,551.7 707.9,556.7 706.5,564.5 709.7,563.1 721.8,563.1M706.5,564.5 704.4,569.1 705.4,575.2 706.5,580.9 710.8,588.8M709.7,563.1 710.8,568 709.3,569.8 707.9,575.2 705.8,575.2M704.4,569.1 709.3,569.8M710.8,588.8 704,589.8 702.2,592.7 702.9,597 702.2,602.1 707.2,603.2 707.2,607.6 702.6,605 698,601.8 693.7,602.1 688,600.3 686.6,598.5 686.6,606.1 679.5,606.1 679.5,617.9 684.4,623.1M645,580.5 648.2,580.5 660.3,580.5 661.7,585.5 668.8,588 678.8,585.5 678.8,593.4 679.5,599.6 686.6,598.5M710.8,588.8 718.2,593.1 722.1,593.4 724.3,601 728.5,600.3 734.6,601.4 744.9,597M718.2,593.1 719.3,604.3 717.5,608.3 723.9,611.2 728.9,613.1 726.8,621.2 723.2,617.1 724.3,601M691.2,623.8 697.2,624.4 704,617.1 709.3,615.7 708.6,612.7 719.3,609.8M709.3,615.7 718.2,619.7 718.2,630.2 716.8,637 712.5,641.3 705.8,640.5 699.7,634 691.2,623.8M643.2,622 651,622.3 667,622.3 677.3,624.6 684.4,623.1 691.2,623.8 684.1,624.6 675.9,625.7 675.9,639.7 672.4,639.7 672.4,650.6 672.4,664.9 663.1,666.1 659.9,665.7M672.4,650.6 675.2,658.5 682,653.3 691.9,654.1 697.2,646.3 705.8,640.5M712.5,641.3 715,649.4 714.7,654.9 715.4,658.5 718.2,658.7M697.2,669.8 700.8,666.1 705.4,667.7 705.1,671.4 701.5,673.9 698.3,672.2 697.2,669.8M714.7,654.9 711.5,655.3 710.8,658.5 712.5,660.5 715.4,658.5M347.7,517.2 343.5,519.8 341.7,526.6 344.2,529.5 343.8,533.1 352,534.5 354.5,537.8 361.2,537.4 360.2,543.5 362,547.4 360.2,549.5 363.4,555.2 353.1,553.5 354.5,557.4 352.4,557.4 352.4,560.2 354.5,563.4 352.7,574.4M352.7,574.4 349.9,573 342,568 336.7,561.3 333.5,559.9 330,558.1 325.7,557 321.1,554.5M333.5,559.9 332.4,564.8 328.9,568.7 323.2,571.6 322.5,575.5 320.4,577.3 315.7,575.2 315.7,571.6M388.6,529.9 383.6,538.1 382.9,538.5 385.4,541 378,545.3 371.9,544.9 373.7,550.6 375.8,551.7 368.4,556.7 363.4,555.2M385.4,541 387.9,541.7 388.6,543.8 388.3,551.3 389.7,553.5 395,554.2 400.4,552.7 407.1,551.3 413.2,551.7 417.4,544.9M397.9,538.5 395,547 397.5,547.8 400.4,552.7M409.2,539.2 407.8,545.3 407.1,551.3M352.7,574.4 342,578 341,582.7 338.1,586.2 341.7,593.1 344.5,595.2 350.2,593.4 350.2,598.9 353.8,598.7 357,604.3 355.9,611.6 354.5,615.3 353.8,622.7 350.9,625.9M353.8,598.7 357.7,598.9 366.6,594.5 368.7,594.5 369.1,600.7 372.6,604.3 379,606.5 386.1,608.7 387.6,617.9 394,618.3 393.6,622 396.8,625 394.3,631.3 394.5,632.7 391.1,629.5 381.5,630.6 378.7,640.5 372.6,642.8 367.6,640.1 363,643.2 362.3,642.8M353.8,622.7 356.6,630.2 357.7,634 359.8,639.7 362.3,642.8M394.5,632.7 395.4,640.1 402.8,640.9 403.9,647.1 408.2,647.6 407.1,653.7M378.7,640.5 384.4,646.7 391.5,649.8 396.4,652.9 392.9,660.1 401.1,660.9 402.5,660.7 407.1,653.7M407.1,653.7 410,659.9 402.8,664.5 396.4,672.2 402.1,674.7 403.6,675.1 409.2,679.3 412.1,682.6 411.4,686.9M396.4,672.2 394.3,681.8 393.6,688.2M362.3,642.8 358,649.4 357.7,659.3 353.8,665.3 352.4,673.5 351.3,683.9 353.1,689 350.6,696.9 348.8,703.5 348.1,712.6 346,720.1 346,729.2M284.3,495.2 284.1,502.2 285.2,502.2M273.4,507.4 273.4,504.4M280.9,510.1 283.4,507.8 284.1,502.2M283.4,507.8 289.1,509.6 289.4,511.4M290.8,512.9 293,510 296.5,509.6 300.4,506.7 305.4,505.5M296.5,519.8 300.1,519.8 303.6,520.5M306.5,530.6 306.5,527.4 307.6,525.6M714.3,558.4 718.6,558.1 721.8,559.1 722.5,563.1 720.7,566.6 718.9,568.4 715,569.1 714,563.8 714.3,558.4" fill="none" stroke="#a0a0a0" stroke-width="1.2" stroke-linejoin="round"/>
<path d="M768.4,378.4 770.1,376.4 771.9,374.9 775.5,372.3 777.2,371.8 782.6,370.2 787.9,370.8 790.4,373.3 789.7,378.4 784.4,378.4 782.6,382.5 780.1,382.5 783.6,388.4 787.9,392.3 788.6,397 789.7,404.1 792.5,408.7 792.9,415.5 792.9,418.2 786.1,419 780.8,417.7 777.2,415.5 775.1,411.4 776.2,407.3 777.2,402.7 780.1,402.2 776.5,399.4 773.7,395.1 770.1,389.8 769.4,384.9 767.6,381.5Z" fill="#9ab7cf"/>
<path d="M531,12.5 517.5,14 505,14.8 495.6,15.6 486.5,23" fill="none" stroke="#9ab7cf" stroke-width="3.2" stroke-linecap="round" stroke-linejoin="round"/>
<path d="M516,15.6 512,23 508,30.5" fill="none" stroke="#9ab7cf" stroke-width="2" stroke-linecap="round" stroke-linejoin="round"/>
<path d="M527,15 526.5,23 525.3,31 521,41 517.5,50" fill="none" stroke="#9ab7cf" stroke-width="2.4" stroke-linecap="round" stroke-linejoin="round"/>
<path d="M533,15.6 536.25,28" fill="none" stroke="#9ab7cf" stroke-width="1.5" stroke-linecap="round" stroke-linejoin="round"/>
<path d="M407.3,12 408,21 408,28" fill="none" stroke="#9ab7cf" stroke-width="2" stroke-linecap="round" stroke-linejoin="round"/>
<path d="M389.4,19 395.6,31" fill="none" stroke="#9ab7cf" stroke-width="1.2" stroke-linecap="round" stroke-linejoin="round"/>
<path d="M417.5,8 418.5,19 419,29.7" fill="none" stroke="#9ab7cf" stroke-width="1.6" stroke-linecap="round" stroke-linejoin="round"/>
<path d="M427,4 433,15.6 439.4,28" fill="none" stroke="#9ab7cf" stroke-width="3" stroke-linecap="round" stroke-linejoin="round"/>
<path d="M437.8,1 442,8 447,14.8" fill="none" stroke="#9ab7cf" stroke-width="1.5" stroke-linecap="round" stroke-linejoin="round"/>
<path d="M452,0 457.3,9.4" fill="none" stroke="#9ab7cf" stroke-width="2.6" stroke-linecap="round" stroke-linejoin="round"/>
<path d="M363,379.4 363,381 357.7,383.4 351.6,386.9 349.9,391.3 348.8,393.2 350.2,395.1 352.4,394.7 352.4,396.1 349.9,396.6 347,397.5 343.5,398 339.2,399.9 345.2,399.4 343.5,400.3 338.1,401.3 338.1,405.5 334.9,409.1 333.2,406.9 334.2,411.4 332.4,415 331,417.3 330,411 329.6,416.8 331,418.2 332.8,425.6 329.2,428.2 324.3,430.8 320.4,433.4 317.2,436.4 313.2,439.3 311.8,446.4 314.7,453.7 316.8,460.5 316.4,464.5 315.4,466.9 312.9,467.3 310.4,463.7 309,460.5 307.2,456.5 306.8,451.7 304.4,448.4 301.9,447.2 298,448.8 296.2,446.8 291.2,446 288.4,446.4 284.8,446 283,447.2 284.1,450.9 281.2,450.9 277.7,450.5 274.1,449.2 269.5,448.4 265.2,449.6 264.2,450.5 260.3,453.3 255.6,456.5 254.9,460.5 255.6,464.1 249.2,462.1 247.5,457.7 244.3,452.9 240.7,448.4 237.2,448.4 234.7,451.7 230,449.2 228.3,445.1 222.6,440.1 216.5,440.1 216.5,442.2 206.2,442.2 193.1,437.2 184.9,437.2 180.3,431.7 177.4,430.4 172.8,428.7 172.1,425.6 167.8,419.5 165.7,414.1 163.9,413.2 161.1,406.4 158.9,402.2 159.6,395.6 158.6,390.8 160.4,382 160.4,373.8 157.9,362.3 163.2,363.4 165.7,367.1 165.7,361.8 163.9,359.1 262.8,359.1 264.5,360.7 270.6,361.2 274.1,362.8 278.4,363.4 282.7,364.4 287.3,362.8 295.5,367.1 299.7,370.2 301.2,372.3 304,374.4 304.4,375.9 307.9,378.4 309,386.9 308.3,389.8 307.9,391.8 305.8,394.2 307.9,396.1 315,393.2 320.4,390.3 320,388.4 321.4,386.9 328.2,386.9 329.6,384.4 333.5,381 335.6,379.9 347,379.9 349.5,377.9 351.3,375.4 352.4,371.3 355.2,367.4 358.4,367.9 360.2,369.2 360.2,375.9 361.6,376.9 363,379.4ZM100,211 92,208 85,205 75,203 62,200 52,196 46,193 40,196 33,199 28,205 22,211 15,217 10,222 12,228 18,233 27,238 27,241 20,241 12,243 5,247 6,253 12,256 20,257 29,259 30,264 25,267 17,269 12,275 11,282 15,290 22,296 30,300 40,301 46,300 45,306 41,313 33,320 24,326 14,331 5,336 0,339 0,342 10,337 22,331 33,325 43,317 50,308 55,303 58,297 61,291 64,286 66,288 68,293 71,296 75,294 76,289 78,285.5 84,287 90,287 96,289 100,290 104.5,291 110,298 115.5,306.5 121,314 126.5,322 130,330 133,335 139,326 138,324.5 134,319 129,313 125,306 121,298 118,294.5 111,295.5 106,292 100,288ZM51,304 56,300 62,302 60,308 54,312 50,309ZM46,488 48.5,486.5 50.5,489 49,492 46.5,491ZM42.5,485 44.5,485 44.5,486.7 42.5,486.5ZM39.2,482.3 40.8,482.3 40.8,483.8 39.2,483.8ZM32.7,478.8 34.3,478.8 34.3,480.3 32.7,480.3Z" fill="#e3e3e3"/>
<path d="M99.9,209.6 107,210.1 114.1,216.1 117.7,217.1 123,211.1 128.4,211.1 135.5,206 142.6,206 146.1,199.6 149.7,203.9 153.2,211.1 155.7,212.1 158.6,204.9 163.9,208 169.2,208 178.1,213.1 187,216.1 192.4,217.1 195.9,223.9 190.6,226.8 199.5,228.7 208.4,226.8 213.7,229.6 217.2,236 219.7,227.7 222.6,222 227.9,225.8 236.8,227.7 243.9,227.7 251,225.8 252.8,218.1 258.1,223 260.6,231.4 262.4,223.9 258.8,214.1 260.6,208 258.1,200.7 259.2,192 262.8,184.7 265.2,186.4 270.6,193.1 273.4,199.6 274.8,209.1 279.1,213.1 278.4,222 282,220.1 287.3,223.9 289.4,231.4 293.7,227.7 296.5,219.1 296.9,210.1 300.8,207.5 307.9,209.1 311.5,214.1 312.2,221 309,225.8 311.8,232.4 308.3,237.8 304.4,241.4 299,241.4 294.4,239.6 295.5,244 291.2,250.1 288.4,258.4 282,260.9 278.8,264.9 274.1,270.4 268.8,278 266.3,285.5 264.5,291.2 266,299.6 270.6,300.3 272.4,311.6 279.5,310.3 288.4,314.9 297.2,320.6 308.6,323.1 309,333.5 312.5,340.6 315,346.3 319.3,345.2 321.1,339.4 320.4,330.5 317.9,326.2 325.7,320 328.5,312.9 327.5,305 322.1,299.6 325.3,292.6 323.9,285.5 323.9,274.3 332.8,274.3 339.2,273.5 345.2,278 347,282.5 352.4,284 353.8,289.8 353.1,296.8 355.9,299.6 358,303.7 363,302.3 367.3,298.2 370.1,289.8 372.3,288.3 373.7,294.7 378,302.3 381.5,310.3 383.3,316.8 387.9,323.1 395,325.6 397.5,330.5 402.1,333.5 403.2,339.4 402.8,342.3 398.9,345.7 393.2,346.9 387.9,351.9 380.8,352.2 373.7,351.9 365.2,352.5 362,356.9 357.7,359.1 353.4,363.9 350.6,367.6 348.1,370.8 350.9,368.1 353.8,364.4 358,359.6 362.3,357.4 368.4,357.2 372.3,359.6 370.8,363.4 365.5,363.9 368,366 370.8,365.5 370.1,369.7 370.8,373.3 373.7,374.9 377.2,375.9 380.8,375.4 382.6,376.4 384.4,371.8 385.8,369.7 386.8,371.8 388.6,374.9 384.4,378.4 379,380.5 375.1,382 371.9,384.9 368.4,387.4 365.9,385.9 366.6,382.5 370.8,379.4 372.6,378.4 370.8,376.9 368.4,378.4 366.6,378.7 363,379.4 363,379.4 361.6,376.9 360.2,375.9 360.2,369.2 358.4,367.9 355.2,367.4 352.4,371.3 351.3,375.4 349.5,377.9 347,379.9 335.6,379.9 333.5,381 329.6,384.4 328.2,386.9 321.4,386.9 320,388.4 320.4,390.3 315,393.2 307.9,396.1 305.8,394.2 307.9,391.8 308.3,389.8 309,386.9 307.9,378.4 304.4,375.9 304,374.4 301.2,372.3 299.7,370.2 295.5,367.1 287.3,362.8 282.7,364.4 278.4,363.4 274.1,362.8 270.6,361.2 264.5,360.7 262.8,359.1 163.9,359.1 163.9,359.1 162.8,355.3 157.5,351.9 153.2,349.7 148.6,346.9 146.8,341.1 144.4,337.6 141.5,333.5 138,328.7 138.7,324.4 139,326 138,324.5 134,319 129,313 125,306 121,298 118,294.5 111,295.5 106,292 100,288 100,288ZM162.8,362.3 158.6,361.8 154,359.1 147.9,353.6 145.1,349.7 149.7,349.7 155.7,353.1 160.4,357.4ZM135.5,342.3 130.1,335.3 128.4,329.9 133,329.9 132.6,336.5ZM390.4,366.6 393.2,361.8 395,356.4 398.6,349.7 402.5,344.6 402.8,349.1 402.1,353.6 405.7,354.2 410.7,356.4 412.8,360.7 413.9,366.6 412.8,371.3 409.2,370.8 408.5,367.1 403.9,370.2 402.1,367.1 396.8,366.6ZM371.9,354.2 379,356.4 381.9,358.5 375.5,358ZM372.6,370.8 377.2,372.6 380.8,372.6 379,374.9 374.4,373.3ZM277,108.5 280.5,108 282.5,111 279,113ZM227.5,142 230.5,141 232,143.5 229.5,145.6ZM196,104 198,96 203,90 209,87 213,90 211,98 206,106 200,111ZM189,118 194,116 198,119 194,123 190,122ZM159.4,155.6 168.75,154.4 178.75,156.9 186.25,160 190.6,166.25 187.5,170 181.25,175 176.25,181.25 172.5,188.75 165,193.75 161.25,188.75 155.6,183.75 157.5,175 158.75,165ZM192.5,169.4 195,173.75 200,174.4 206.25,178.75 212.5,177.5 215.5,181 217,176 218,170 222,165 228.75,165 227.5,171.25 225,176.25 227.5,185 230,195 236.25,201.25 241.9,206.25 237.5,212.5 240,216.25 232.5,217.5 225,215 220,218.75 210,221.25 200,220 197.5,216.25 188.75,212.5 183.75,207.5 187.5,205 196,204.5 205,203 197,201 191.25,200 182.5,197.5 180,192.5 185,191.5 190,190 185,189 181.25,188.75 178.75,185 182.5,178.75 186,174 190,171.25ZM243.75,162.5 253.75,160 256.25,170 257.5,181.25 254,187 251.25,191.25 246.25,183.75 240,178.75 236.9,173.75 242.5,170 241,166ZM262.5,161 272.5,158.75 280,161.25 277.5,171.25 272.5,176.25 267.5,175 266.25,183.75 262.5,182.5 261.9,171.25ZM250,211 254,208.75 259,211 260,216 257,220 251,219ZM198,153 202,148 207,145 212,142 217,140 220,136 223,133 226,138 225,142 223,145 218,147 213,148 209,151 205,153ZM170,126 174,117 179,111 184,110 185,116 181,122 184,128 190,131 186,136 178,133ZM230.6,126 235,123.75 239,125 243,128 242,133 243.75,138 239,138.75 235,135 232,131ZM244.5,124 250,123.75 254,128 254.4,137 252,146 247,146.25 244.5,140 245.5,132ZM259.4,142 263,138.75 268.75,141 268,148 264,151.25 260,149ZM257.5,117.5 262,118 267.5,121.25 275,123.75 280,128.75 281.25,136.25 290,138.75 300,137.5 310,136.25 316.9,140 317.5,147.5 312.5,151.9 300,152.5 287.5,152.5 277.5,151.25 273.75,145 272.5,136.25 271.25,128.75 266.25,126.25 260,123.75ZM308,0 302,4 297,7.5 290,13 283.75,18.75 279,22 275.3,24.4 277,30 280,38 277.5,41 282,45 288,50 292,54 294.5,62 297,70 299,80 298.5,88 296.5,96 293.5,102 290,105 287,112 285,118 283.75,120 290,124 298.75,127.5 310,127.5 321,125.6 323,119 325,112.5 329,103 332.5,94 334,86 335,79 341,70 347.5,62 355,52.5 362,44 370,34 377,22 383,9.4 380,4 375.6,0ZM267,34.7 273.4,37.5 276,41.5 280.5,46 286.5,51 290.5,55 293,62 295.5,70 297.5,80 297,88 295,96 292,101 288,103 284,100 280,97.5 275,93 270.6,88 266,81 263,75 260,69 257.5,62 258,54 260,47 263,40ZM226,79 232,77 238,80 243,86 247,93 248,100 244,103 238,100 233,95 229,88ZM252,89 258,87 263,92 267,99 269,106 266,110 260,107 256,101 253,95ZM245,62 250,61 251,67 247,68.5ZM315,165 322,165 328,170 327,175 320,174 315,170ZM287,163 297,162.5 296,172 297.5,185 300,178 302,166 312,164 315,168 318,174 328,176 337,183 345,192 353,200 360,207 363,213 360,217 363,222 373,228 383,238 380,243 375,250 370,243 366,241 361,243 364,248 367,253 372,263 370,272 348,272 347,263 342,257 337,252 327,252 325,257 322,254 330,249 338,248 340,240 343,233 342,225 337,218 332,213 325,208 318,203 312,203 303,205 295,205 290,200 285,197 282.5,188 283,175 285,167ZM327.5,226 331,224 335,227 334,232 329,232.5ZM297,250 303,247 308,252 312,257 315,263 308,265 300,263 295,258ZM310,268 316,267 318,271 312,272Z" fill="#cf5352"/>
<path d="M255.6,464.1 253.9,471.6 253.5,478.5 255.6,483.9 259.6,489.9 263.5,492.2 265.6,493.7 271.6,492.2 274.8,492.2 279.5,487.7 279.8,483.1 282.7,482 288.4,480.8 291.9,481.2 292.6,482.7 290.5,486.1 290.1,488.8 289.1,492.5 287.6,492.5 284.4,494.8 277.7,495.2 277.7,497.2 278.8,501.1 275.2,501.5 273.4,504.4 273.4,507.4 267.4,501.9 262.8,501.1 258.1,503 251,500.7 246,498.9 240,495.9 237.9,494.8 233.2,493.3 230.4,490.3 225.4,485.4 226.8,484.2 226.8,481.2 222.9,474.7 217.6,469.2 212.3,465.3 210.8,460.9 206.9,456.1 202.3,451.7 199.5,444.3 197.3,442.2 193.1,440.1 193.4,443.5 195.9,448.4 200.2,454.1 202,458.9 205.5,463.7 209.1,470.8 212.3,473.9 210.5,475.8 209.4,473.9 203,469.6 202,463.7 197.7,460.5 192,456.5 195.2,454.9 195.6,452.9 191.6,448.8 189.2,445.5 186.7,440.1 184.9,437.2 193.1,437.2 206.2,442.2 216.5,442.2 216.5,440.1 222.6,440.1 228.3,445.1 230,449.2 234.7,451.7 237.2,448.4 240.7,448.4 244.3,452.9 247.5,457.7 249.2,462.1 255.6,464.1Z" fill="#cf5352"/>
<path d="M276,41.5 283,48 291,54 300,56 308,54 315,51 321,47 325,41 328,34" fill="none" stroke="#9ab7cf" stroke-width="2.4" stroke-linecap="round" stroke-linejoin="round"/>
<path d="M308,54 312,60 316,66" fill="none" stroke="#9ab7cf" stroke-width="1.4" stroke-linecap="round" stroke-linejoin="round"/>
<path d="M300,56 303,63 306,69" fill="none" stroke="#9ab7cf" stroke-width="1.2" stroke-linecap="round" stroke-linejoin="round"/>
<path d="M351,38 360,32 369,27" fill="none" stroke="#9ab7cf" stroke-width="1.4" stroke-linecap="round" stroke-linejoin="round"/>
<path d="M288,26 293,33 298,40" fill="none" stroke="#9ab7cf" stroke-width="1.1" stroke-linecap="round" stroke-linejoin="round"/>
<path d="M296,21 301,28" fill="none" stroke="#9ab7cf" stroke-width="1.1" stroke-linecap="round" stroke-linejoin="round"/>
<path d="M334,86 326,88 320,86" fill="none" stroke="#9ab7cf" stroke-width="1.3" stroke-linecap="round" stroke-linejoin="round"/>
<path d="M329,103 321,101 316,104" fill="none" stroke="#9ab7cf" stroke-width="1.3" stroke-linecap="round" stroke-linejoin="round"/>
<path d="M296,172 297,180 298,186" fill="none" stroke="#9ab7cf" stroke-width="1.6" stroke-linecap="round" stroke-linejoin="round"/>
<path d="M300,76 296,84" fill="none" stroke="#9ab7cf" stroke-width="1.0" stroke-linecap="round" stroke-linejoin="round"/>
<path d="M273.8,371.3 277.7,368.7 284.1,362.3 287.6,359.6 293.7,360.7 299.4,365 300.8,372.3 299,370.8 293.7,372.3 290.5,372.3 288.7,367.1 286.6,369.7 283,370.8 278.4,371.8ZM289.8,396.1 289.1,389.8 290.1,382.5 288.4,382 291.9,377.9 293.7,375.9 299.7,375.9 297.2,379.9 294.8,382.5 293.7,387.4 294.4,393.2 291.9,396.1ZM300.1,375.9 304.4,374.9 309.7,374.4 313.2,375.4 316.8,378.9 316.8,382 312.2,378.9 310.8,384.9 310.8,388.4 308.3,389.8 307.6,385.9 303.3,386.4 305.1,382.5 304.7,379.4 301.9,376.9ZM304.7,396.1 307.9,397.5 310.8,397 316.8,393.7 320.7,390.8 318.6,390.3 315.7,391.8 311.5,392.3 307.9,394.7 305.8,394.7ZM317.5,388.4 318.9,386.9 323.9,385.4 329.2,383.9 330.3,386.9 325.3,388.4 320.4,388.4Z" fill="#9ab7cf"/>
<path d="M866.9,411.2 868.75,416.9 873.75,422.5 880,426.9 882.5,432.5 881.25,438.75 877,437 872,436 867,437 865,432 866,426 862,422 861,418 863,414Z" fill="#dcdcdc"/>
<path d="M864.7,407.3 869,404.5 874,401.9 879,398.5 883.4,395.6 887.3,391.7 887.8,386 888,381.6 891.5,379.5 895,378.4 896.5,374.5 897.5,371.4 901.5,370 905.3,369 907,365 908.4,362 911.6,359.7 916.25,363.6 922.5,369 923.5,373 924,376.9 928.75,380.8 936.6,383 941.25,387.8 944.4,392.5 953.75,393.3 963,394 972.5,398 980.3,395.6 989.7,393.3 996,390 997.5,386 999,383 1006.9,380 1016.25,375.3 1025.6,372.2 1027.2,369 1021,366 1014,365 1014.3,362 1014.7,359.7 1017.8,356.6 1024,355 1028,348.75 1029.3,344 1030.3,339.4 1033.4,335.5 1039.7,334.4 1044,335 1047.5,336.5 1049.5,341 1051.4,345.6 1053.3,349.5 1055.3,353.4 1059,355.7 1063,358.5 1066.7,360.6 1073,362.5 1079.5,364.5 1078,369 1076.4,374 1072,377.5 1068.6,380 1067.5,384 1066.7,387.8 1063,392 1059,395.6 1054,398.5 1049,401.4 1043.6,404.1 1038.6,405.5 1033.6,409.1 1034.7,404.1 1035.7,400.8 1031.5,399.9 1027.2,404.1 1021.5,408.2 1020.1,408.7 1024,413.2 1024.4,414.1 1025.1,416.8 1030.4,414.1 1037.2,415.9 1036.4,418.2 1029,422.1 1025.4,426.1 1025.4,427.8 1029,430 1031.1,435.1 1034.3,439.3 1034.7,443.9 1030.8,445.1 1033.2,447.6 1035.7,448 1034.7,451.7 1033.6,454.5 1030.4,456.5 1029,459.7 1026.8,462.9 1024.4,466.9 1021.2,469.6 1018.3,472.7 1016.2,474.3 1011.9,476.6 1007.3,478.1 1004.8,478.5 1001.2,480.4 995.9,481.6 994.1,482.3 994.1,485.8 991.6,485.4 991.3,481.2 986.3,480.8 985,480 982.5,479.7 979,477.5 975.5,475.5 968.4,476.9 964,478.5 960,479.7 957,477 954.4,474 952,471 950.2,468.4 951.5,465 953,461.4 951,458.5 948.75,455.8 946,453.5 943,451.6 938,452 933.3,453 930,454.5 926.3,455.8 919,456.2 912.2,455.8 905,454 898,451.6 893,449.7 888.3,447.3 885,443.8 882.7,440.3 881.25,438.75 882.5,432.5 880,426.9 873.75,422.5 868.75,416.9 866.9,411.2ZM987.7,489.9 990.6,486.9 994.5,486.5 995.9,488.4 994.1,491.8 990.9,493.7 987.7,492.2ZM1033.2,466.5 1035,467.6 1033.6,471.6 1032.5,476.2 1030.8,479.7 1028.6,477 1028.3,473.5 1030.8,468.8Z" fill="#ee6a6d"/>
</svg>
<svg id="logo" viewBox="10 5 290 200">
<defs>
<filter id="sh" x="-60%" y="-60%" width="220%" height="220%"><feGaussianBlur stdDeviation="9"/></filter>
<mask id="m" maskUnits="userSpaceOnUse" x="10" y="5" width="290" height="200">
<rect x="10" y="5" width="290" height="200" fill="#fff"/>
<circle cx="110.3" cy="105.2" r="36.5" fill="#000"/>
<text x="182.75" y="122" font-family="Liberation Sans, sans-serif" font-weight="bold" font-size="46" text-anchor="middle" fill="#000" stroke="#000" stroke-width="2" transform="translate(182.75 0) scale(1.29 1) translate(-182.75 0)">W</text>
</mask>
<mask id="ms" maskUnits="userSpaceOnUse" x="10" y="5" width="290" height="200">
<rect x="10" y="5" width="290" height="200" fill="#fff"/>
<circle cx="110.3" cy="105.2" r="46" fill="#000"/><circle cx="179.8" cy="105.2" r="46" fill="#000"/>
</mask>
</defs>
<g mask="url(#ms)"><g opacity="0.27" filter="url(#sh)"><circle cx="110.3" cy="105.5" r="50" fill="#1c3350"/><circle cx="179.8" cy="105.5" r="50" fill="#1c3350"/></g></g>
<g opacity="0.14"><circle cx="110.3" cy="105.2" r="46.5" fill="#1c3350"/><circle cx="179.8" cy="105.2" r="46.5" fill="#1c3350"/></g>
<g mask="url(#m)"><circle cx="110.3" cy="105.2" r="47.5" fill="#fff"/><circle cx="179.8" cy="105.2" r="47.5" fill="#fff"/></g>
<text x="111.8" y="123.6" font-family="Liberation Sans, sans-serif" font-weight="bold" font-size="50.5" text-anchor="middle" fill="#fff" stroke="#fff" stroke-width="2" transform="translate(111.8 0) scale(1.31 1) translate(-111.8 0)">D</text>
</svg>
<div class="title" style="top:58.9px">Trump's new tariffs</div>
<div class="box b1"><span class="name">CANADA</span><span class="pct">25%</span></div>
<div class="box b2"><span class="name">MEXICO</span><span class="pct">25%</span></div>
<div class="box b3"><span class="name" style="left:39px;letter-spacing:1.35px">CHINA</span><span class="pct" style="left:209px">20%</span>
<svg style="position:absolute;left:300px;top:15px" width="32" height="30" viewBox="1010 526 32 30"><path d="M1014.6 550.3 L1034 531.9 M1020.6 531.6 H1034.9 V547.3" fill="none" stroke="#2aa7ea" stroke-width="3"/></svg>
<span style="left:343.8px;top:1.4px;font-size:22px">+</span><span class="plus" style="left:359.6px;letter-spacing:1.7px">10%</span></div>
</body></html>
